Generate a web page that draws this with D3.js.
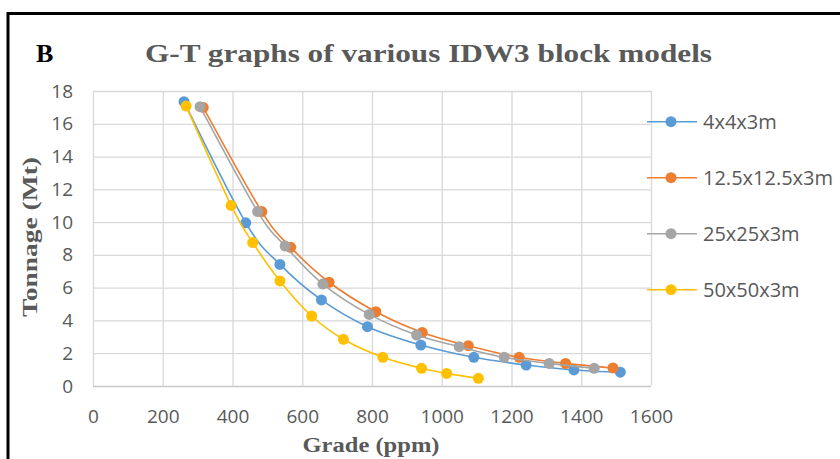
<!DOCTYPE html>
<html>
<head>
<meta charset="utf-8">
<script src="https://cdn.jsdelivr.net/npm/d3@7"></script>
<style>
  html, body { margin: 0; padding: 0; background: #fff; }
  svg { display: block; }
</style>
</head>
<body>
<svg id="chart" width="840" height="459"></svg>
<script>
// Grade (ppm) / tonnage (Mt) pairs for each block-model size
const seriesNames = ["4x4x3m", "12.5x12.5x3m", "25x25x3m", "50x50x3m"];
const seriesColors = ["#5B9BD5", "#ED7D31", "#A5A5A5", "#FFC000"];

const grade4 = [261, 438, 536, 655, 787, 940, 1092, 1242, 1379, 1512];
const tonnage4 = [17.35, 9.96, 7.42, 5.25, 3.62, 2.5, 1.75, 1.28, 0.98, 0.84];

const grade12 = [316, 484, 567, 677, 811, 944, 1076, 1222, 1355, 1491];
const tonnage12 = [17.0, 10.64, 8.46, 6.33, 4.53, 3.27, 2.46, 1.75, 1.38, 1.1];

const grade25 = [307, 472, 551, 659, 792, 928, 1050, 1179, 1308, 1437];
const tonnage25 = [17.04, 10.64, 8.54, 6.22, 4.37, 3.11, 2.4, 1.75, 1.38, 1.08];

const grade50 = [267, 396, 458, 536, 627, 718, 831, 942, 1014, 1105];
const tonnage50 = [17.08, 11.02, 8.75, 6.41, 4.27, 2.85, 1.75, 1.08, 0.77, 0.47];

const xTicks = [0, 200, 400, 600, 800, 1000, 1200, 1400, 1600];
const yTicks = [0, 2, 4, 6, 8, 10, 12, 14, 16, 18];

const series = [
  { name: seriesNames[0], color: seriesColors[0], g: grade4, t: tonnage4 },
  { name: seriesNames[1], color: seriesColors[1], g: grade12, t: tonnage12 },
  { name: seriesNames[2], color: seriesColors[2], g: grade25, t: tonnage25 },
  { name: seriesNames[3], color: seriesColors[3], g: grade50, t: tonnage50 }
].map(s => ({ ...s, pts: s.g.map((g, i) => ({ x: g, y: s.t[i] })) }));

const svg = d3.select("#chart");
const plot = { left: 93, right: 651, top: 91, bottom: 386 };

const x = d3.scaleLinear().domain([0, 1600]).range([plot.left, plot.right]);
const y = d3.scaleLinear().domain([0, 18]).range([plot.bottom, plot.top]);

const textGray = "#595959";
const tickFont = "'Open Sans', 'Noto Sans', sans-serif";
const serif = "'Liberation Serif', 'DejaVu Serif', serif";

// Outer frame
svg.append("rect")
  .attr("x", 8).attr("y", 13.5)
  .attr("width", 860).attr("height", 470)
  .attr("fill", "none").attr("stroke", "#000").attr("stroke-width", 3);

// Panel letter and title
svg.append("text")
  .attr("x", 36).attr("y", 62)
  .attr("font-family", serif).attr("font-weight", "bold")
  .attr("font-size", 26).attr("fill", "#000")
  .text("B");

svg.append("text")
  .attr("x", 145).attr("y", 62)
  .attr("font-family", serif).attr("font-weight", "bold")
  .attr("font-size", 26).attr("fill", textGray)
  .attr("textLength", 567).attr("lengthAdjust", "spacingAndGlyphs")
  .text("G-T graphs of various IDW3 block models");

// Gridlines
const grid = svg.append("g");
grid.selectAll("line.h").data(yTicks).join("line")
  .attr("class", "h")
  .attr("x1", plot.left).attr("x2", plot.right)
  .attr("y1", d => y(d) + 0.5).attr("y2", d => y(d) + 0.5)
  .attr("stroke", d => d === 0 ? "#c8c8c8" : "#d9d9d9").attr("stroke-width", 1.3);
grid.selectAll("line.v").data(xTicks).join("line")
  .attr("class", "v")
  .attr("x1", d => x(d) + 0.5).attr("x2", d => x(d) + 0.5)
  .attr("y1", plot.top).attr("y2", plot.bottom)
  .attr("stroke", "#d9d9d9").attr("stroke-width", 1.3);

// Axes (labels only; lines come from the grid)
const xAxis = svg.append("g")
  .attr("transform", `translate(0,${plot.bottom})`)
  .call(d3.axisBottom(x).tickValues(xTicks).tickSize(0).tickPadding(30).tickFormat(d3.format("d")));
const yAxis = svg.append("g")
  .attr("transform", `translate(${plot.left},0)`)
  .call(d3.axisLeft(y).tickValues(yTicks).tickSize(0).tickPadding(20).tickFormat(d3.format("d")));
[xAxis, yAxis].forEach(a => {
  a.select(".domain").remove();
  a.selectAll("text")
    .attr("font-family", tickFont).attr("font-size", 19).attr("fill", textGray);
});
xAxis.selectAll("text").attr("dy", 0).attr("y", 37);

// Axis titles
svg.append("text")
  .attr("x", 371).attr("y", 452)
  .attr("text-anchor", "middle")
  .attr("font-family", serif).attr("font-weight", "bold")
  .attr("font-size", 22).attr("fill", textGray)
  .attr("textLength", 137).attr("lengthAdjust", "spacingAndGlyphs")
  .text("Grade (ppm)");

svg.append("text")
  .attr("transform", "translate(37,237) rotate(-90)")
  .attr("text-anchor", "middle")
  .attr("font-family", serif).attr("font-weight", "bold")
  .attr("font-size", 22).attr("fill", textGray)
  .attr("textLength", 160).attr("lengthAdjust", "spacingAndGlyphs")
  .text("Tonnage (Mt)");

// Smoothed lines with markers
const line = d3.line()
  .x(d => x(d.x)).y(d => y(d.y))
  .curve(d3.curveCardinal.tension(0));

const seriesG = svg.append("g");
series.forEach(s => {
  const g = seriesG.append("g");
  g.append("path")
    .attr("d", line(s.pts))
    .attr("fill", "none").attr("stroke", s.color).attr("stroke-width", 1.6);
  g.selectAll("circle").data(s.pts).join("circle")
    .attr("cx", d => x(d.x)).attr("cy", d => y(d.y))
    .attr("r", 5.5).attr("fill", s.color);
});

// Legend
const legend = svg.append("g");
series.forEach((s, i) => {
  const ly = 121.7 + i * 56;
  const row = legend.append("g").attr("transform", `translate(0,${ly})`);
  row.append("line")
    .attr("x1", 647).attr("x2", 697).attr("y1", 0).attr("y2", 0)
    .attr("stroke", s.color).attr("stroke-width", 1.6);
  row.append("circle").attr("cx", 671).attr("cy", 0).attr("r", 5.5).attr("fill", s.color);
  row.append("text")
    .attr("x", 703).attr("y", 0).attr("dy", "0.35em")
    .attr("font-family", tickFont).attr("font-size", 20).attr("fill", textGray)
    .text(s.name);
});
</script>
</body>
</html>
